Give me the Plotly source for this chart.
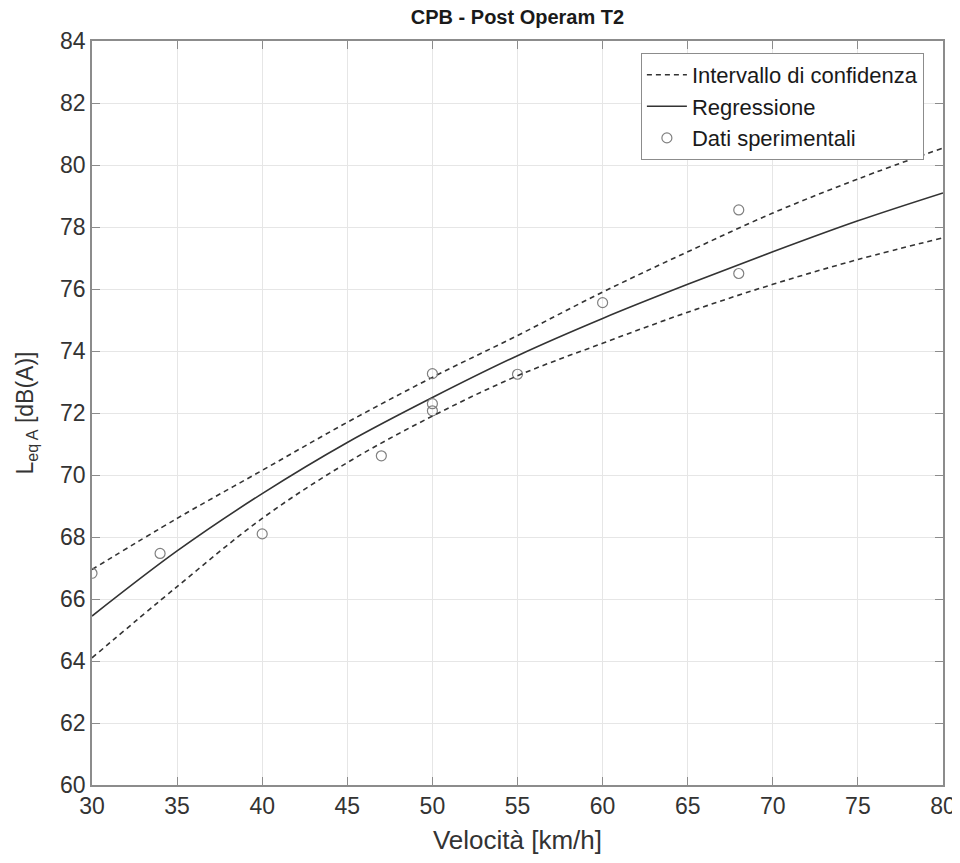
import plotly.graph_objects as go

# Experimental data
data_speed = [30, 34, 40, 47, 50, 50, 50, 55, 60, 68, 68]
data_leq = [66.83, 67.47, 68.1, 70.62, 73.27, 72.3, 72.07, 73.25, 75.56, 78.55, 76.5]

# Curves
curve_speed = [30, 35, 40, 45, 50, 55, 60, 65, 70, 75, 80]
regression = [65.45, 67.55, 69.4, 71.05, 72.5, 73.85, 75.05, 76.15, 77.2, 78.2, 79.1]
ci_upper = [66.95, 68.6, 70.15, 71.7, 73.15, 74.5, 75.9, 77.2, 78.45, 79.55, 80.55]
ci_lower = [64.1, 66.4, 68.6, 70.4, 71.9, 73.2, 74.25, 75.25, 76.15, 76.95, 77.65]

x_ticks = [30, 35, 40, 45, 50, 55, 60, 65, 70, 75, 80]
y_ticks = list(range(60, 85, 2))

line_col = "#333333"
font_fam = "Liberation Sans, Arial, sans-serif"
dash_style = "5px,4px"

fig = go.Figure()
fig.add_trace(go.Scatter(x=curve_speed, y=ci_upper, mode="lines", name="Intervallo di confidenza",
                         legendgroup="ci", line=dict(color=line_col, width=1.6, dash=dash_style, shape="spline")))
fig.add_trace(go.Scatter(x=curve_speed, y=regression, mode="lines", name="Regressione",
                         line=dict(color=line_col, width=1.6, shape="spline")))
fig.add_trace(go.Scatter(x=data_speed, y=data_leq, mode="markers", name="Dati sperimentali",
                         marker=dict(symbol="circle-open", size=10, color="#808080", line=dict(width=1.2))))
fig.add_trace(go.Scatter(x=curve_speed, y=ci_lower, mode="lines", name="Intervallo di confidenza",
                         legendgroup="ci", showlegend=False,
                         line=dict(color=line_col, width=1.6, dash=dash_style, shape="spline")))

axis_common = dict(showline=True, linecolor="#8c8c8c", linewidth=1.5, mirror="ticks",
                   ticks="inside", ticklen=8, tickcolor="#8c8c8c",
                   showgrid=True, gridcolor="#e6e6e6", gridwidth=1, zeroline=False,
                   ticklabeloverflow="allow", automargin=False,
                   tickfont=dict(size=23, color="#333333", family=font_fam))

fig.update_layout(
    width=944, height=847,
    paper_bgcolor="white", plot_bgcolor="white",
    margin=dict(l=84, r=9, t=33, b=70, autoexpand=False),
    title=dict(text="<b>CPB - Post Operam T2</b>", x=(84 + 935) / 2 / 944, xanchor="center",
               y=1.0, yanchor="top", pad=dict(t=2),
               font=dict(size=20, color="#1a1a1a", family=font_fam)),
    xaxis=dict(range=[30, 80], tickvals=x_ticks,
               title=dict(text="Velocità [km/h]", font=dict(size=26, color="#333333", family=font_fam), standoff=18),
               **axis_common),
    yaxis=dict(range=[60, 84], tickvals=y_ticks,
               title=dict(text="L<sub>eq A</sub> [dB(A)]", font=dict(size=23, color="#333333", family=font_fam), standoff=20),
               **axis_common),
    legend=dict(x=0.645, y=0.984, xanchor="left", yanchor="top",
                bgcolor="white", bordercolor="#8c8c8c", borderwidth=1,
                font=dict(size=22, color="#1a1a1a", family=font_fam),
                tracegroupgap=0, itemwidth=40),
    showlegend=True,
)

fig.write_html("out.html")
